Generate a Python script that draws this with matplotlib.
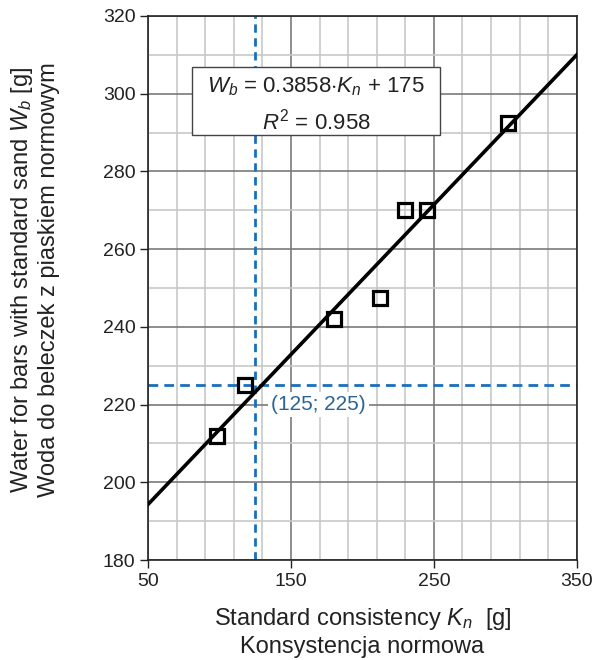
import numpy as np
import matplotlib
matplotlib.use("Agg")
import matplotlib.pyplot as plt
from matplotlib.ticker import FixedLocator
from matplotlib.patches import Rectangle

plt.rcParams['font.family'] = ['Liberation Sans', 'DejaVu Sans']
plt.rcParams['mathtext.fontset'] = 'custom'
plt.rcParams['mathtext.rm'] = 'Liberation Sans'
plt.rcParams['mathtext.it'] = 'Liberation Sans:italic'

# measured points
kn = [98, 118, 180, 212, 230, 245, 302]
wb = [212, 225, 242, 247.5, 270, 270, 292.5]

# fit line
slope = 0.3858
intercept = 175
x_fit = [50, 350]

# marked point
x_mark, y_mark = 125, 225

x_major = [50, 150, 250, 350]
x_minor = np.arange(50, 351, 20)
y_major = np.arange(180, 321, 20)
y_minor = np.arange(180, 321, 10)

fig = plt.figure(figsize=(5.99, 6.6), dpi=100)
ax = fig.add_axes([0.247, 0.1515, 0.716, 0.8243])

ax.set_xlim(50, 350)
ax.set_ylim(180, 320)
ax.xaxis.set_major_locator(FixedLocator(x_major))
ax.xaxis.set_minor_locator(FixedLocator(x_minor))
ax.yaxis.set_major_locator(FixedLocator(y_major))
ax.yaxis.set_minor_locator(FixedLocator(y_minor))

ax.grid(which='minor', color='#c8c8c8', lw=1.2)
ax.grid(which='major', color='#7a7a7a', lw=1.2)
ax.set_axisbelow(True)
ax.tick_params(which='major', direction='out', length=6, width=1, labelsize=14,
               colors='#222222', pad=3)
ax.tick_params(which='minor', length=0)
for s in ax.spines.values():
    s.set_color('#222222')
    s.set_linewidth(1.2)

ax.axvline(x_mark, color='#1a6fbd', lw=2, ls=(0, (3, 2)), zorder=2)
ax.axhline(y_mark, color='#1a6fbd', lw=2, ls=(0, (3.5, 2.2)), zorder=2)

y_fit = [slope * x + intercept for x in x_fit]
ax.plot(x_fit, y_fit, color='black', lw=2.6, zorder=3)
ax.plot(kn, wb, ls='none', marker='s', ms=9.5, mfc='none', mec='black', mew=2.3, zorder=4)

ax.text(136, 220, '(125; 225)', color='#2a6496', fontsize=15, ha='left', va='center',
        bbox=dict(boxstyle='square,pad=0.15', fc='white', ec='none'), zorder=5)

# equation box
ax.add_patch(Rectangle((80.8, 289.4), 173.4, 17.5, fc='white', ec='#444444', lw=1, zorder=6))
ax.text(167.5, 301.8, '$W_b$ = 0.3858$\\cdot K_n$ + 175', fontsize=16,
        ha='center', va='center', color='#222222', zorder=7)
ax.text(167.5, 292.9, '$R^2$ = 0.958', fontsize=16,
        ha='center', va='center', color='#222222', zorder=7)

ax.set_xlabel('Standard consistency $K_n$  [g]\nKonsystencja normowa', fontsize=17,
              color='#222222', labelpad=12)
ax.set_ylabel('Water for bars with standard sand $W_b$ [g]\nWoda do beleczek z piaskiem normowym',
              fontsize=17, color='#222222')
ax.yaxis.set_label_coords(-0.205, 0.515)

fig.savefig('out.png', dpi=100)
